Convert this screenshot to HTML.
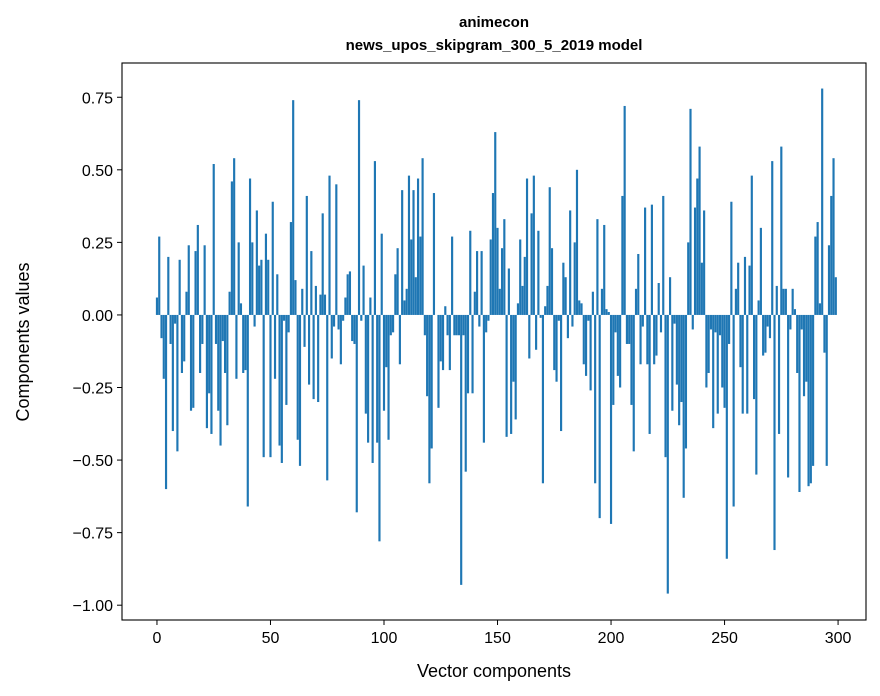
<!DOCTYPE html>
<html><head><meta charset="utf-8"><style>
body{margin:0;background:#fff;}
svg{display:block;font-family:"Liberation Sans","DejaVu Sans",sans-serif;}
</style></head><body>
<svg id="chart" width="880" height="696" viewBox="0 0 880 696" xmlns="http://www.w3.org/2000/svg">
<rect width="880" height="696" fill="#fff"/>
<text x="494" y="27" text-anchor="middle" font-size="15" font-weight="bold">animecon</text>
<text x="494" y="50" text-anchor="middle" font-size="15" font-weight="bold">news_upos_skipgram_300_5_2019 model</text>
<g id="bars"></g>
<g id="axes"></g>
<rect x="122" y="63" width="744" height="557" fill="none" stroke="#000" stroke-width="1.1"/>
<text x="494" y="677" text-anchor="middle" font-size="18">Vector components</text>
<text transform="translate(29,342) rotate(-90)" text-anchor="middle" font-size="18">Components values</text>
</svg>
<script>
const xTicks = [0,50,100,150,200,250,300];
const yTicks = [0.75,0.5,0.25,0,-0.25,-0.5,-0.75,-1.0];
const yTickLabels = ["0.75","0.50","0.25","0.00","\u22120.25","\u22120.50","\u22120.75","\u22121.00"];
const values = [
0.06,0.27,-0.08,-0.22,-0.60,0.20,-0.10,-0.40,-0.03,-0.47,0.19,-0.20,-0.16,0.08,0.24,-0.33,-0.32,0.22,0.31,-0.20,-0.10,0.24,-0.39,-0.27,-0.41,
0.52,-0.10,-0.33,-0.45,-0.09,-0.20,-0.38,0.08,0.46,0.54,-0.22,0.25,0.04,-0.20,-0.19,-0.66,0.47,0.25,-0.04,0.36,0.17,0.19,-0.49,0.28,0.19,
-0.49,0.39,-0.22,0.14,-0.45,-0.51,-0.02,-0.31,-0.06,0.32,0.74,0.12,-0.43,-0.52,0.09,-0.11,0.41,-0.24,0.22,-0.29,0.10,-0.30,0.07,0.35,0.07,
-0.57,0.48,-0.15,-0.04,0.45,-0.05,-0.17,-0.02,0.06,0.14,0.15,-0.09,-0.10,-0.68,0.74,-0.02,0.17,-0.34,-0.44,0.06,-0.51,0.53,-0.44,-0.78,0.28,
-0.33,-0.18,-0.43,-0.07,-0.06,0.14,0.23,-0.17,0.43,0.05,0.09,0.48,0.26,0.43,0.13,0.47,0.27,0.54,-0.07,-0.28,-0.58,-0.46,0.42,0.00,-0.32,
-0.16,-0.19,0.03,-0.07,-0.19,0.27,-0.07,-0.07,-0.07,-0.93,-0.07,-0.54,-0.27,0.29,-0.27,0.08,0.22,-0.04,0.22,-0.44,-0.06,-0.02,0.26,0.42,0.63,
0.30,0.09,0.23,0.33,-0.42,0.16,-0.41,-0.23,-0.36,0.04,0.26,0.10,0.20,0.47,-0.15,0.35,0.48,-0.12,0.29,-0.01,-0.58,0.03,0.10,0.44,0.23,
-0.19,-0.23,-0.02,-0.40,0.18,0.13,-0.08,0.36,-0.04,0.25,0.50,0.05,0.04,-0.17,-0.21,-0.02,-0.26,0.08,-0.58,0.33,-0.70,0.09,0.31,0.02,0.01,
-0.72,-0.31,-0.06,-0.21,-0.25,0.41,0.72,-0.10,-0.10,-0.31,-0.47,0.09,0.21,-0.17,-0.04,0.37,-0.17,-0.41,0.38,-0.17,-0.14,0.11,-0.06,0.41,-0.49,
-0.96,0.13,-0.33,-0.03,-0.24,-0.38,-0.30,-0.63,-0.46,0.25,0.71,-0.05,0.37,0.47,0.58,0.18,0.36,-0.25,-0.20,-0.05,-0.39,-0.06,-0.34,-0.07,-0.25,
-0.32,-0.84,-0.10,0.39,-0.66,0.09,0.18,-0.18,-0.34,0.20,-0.34,0.17,0.48,-0.29,-0.55,0.05,0.30,-0.14,-0.13,-0.04,-0.08,0.53,-0.81,0.10,-0.41,
0.58,0.09,0.09,-0.56,-0.05,0.09,0.02,-0.20,-0.61,-0.05,-0.28,-0.23,-0.59,-0.58,-0.52,0.27,0.32,0.04,0.78,-0.13,-0.52,0.24,0.41,0.54,0.13
];
const NS = "http://www.w3.org/2000/svg";
const X0 = 122, X1 = 866, Y0 = 63, Y1 = 620;
const xMin = -15.4, xMax = 312.3, yMin = -1.051, yMax = 0.868;
function xs(v){ return X0 + (v - xMin) / (xMax - xMin) * (X1 - X0); }
function ys(v){ return Y0 + (yMax - v) / (yMax - yMin) * (Y1 - Y0); }
const barsG = document.getElementById('bars');
const w = xs(0.95) - xs(0);
values.forEach((v, i) => {
  const r = document.createElementNS(NS, 'rect');
  const top = ys(Math.max(v, 0)), bot = ys(Math.min(v, 0));
  r.setAttribute('x', xs(i) - w / 2);
  r.setAttribute('y', top);
  r.setAttribute('width', w);
  r.setAttribute('height', Math.max(bot - top, 0.01));
  r.setAttribute('fill', '#1f77b4');
  
  
  barsG.appendChild(r);
});
const axesG = document.getElementById('axes');
xTicks.forEach(t => {
  const l = document.createElementNS(NS, 'line');
  l.setAttribute('x1', xs(t)); l.setAttribute('x2', xs(t));
  l.setAttribute('y1', Y1); l.setAttribute('y2', Y1 + 5);
  l.setAttribute('stroke', '#000');
  
  
  axesG.appendChild(l);
  const tx = document.createElementNS(NS, 'text');
  tx.setAttribute('x', xs(t)); tx.setAttribute('y', Y1 + 23);
  tx.setAttribute('text-anchor', 'middle'); tx.setAttribute('font-size', '16');
  tx.textContent = String(t);
  
  
  axesG.appendChild(tx);
});
yTicks.forEach((t, k) => {
  const l = document.createElementNS(NS, 'line');
  l.setAttribute('x1', X0 - 5); l.setAttribute('x2', X0);
  l.setAttribute('y1', ys(t)); l.setAttribute('y2', ys(t));
  l.setAttribute('stroke', '#000');
  
  
  axesG.appendChild(l);
  const tx = document.createElementNS(NS, 'text');
  tx.setAttribute('x', X0 - 9); tx.setAttribute('y', ys(t) + 6);
  tx.setAttribute('text-anchor', 'end'); tx.setAttribute('font-size', '16');
  tx.textContent = yTickLabels[k];
  
  
  axesG.appendChild(tx);
});
</script>
</body></html>
